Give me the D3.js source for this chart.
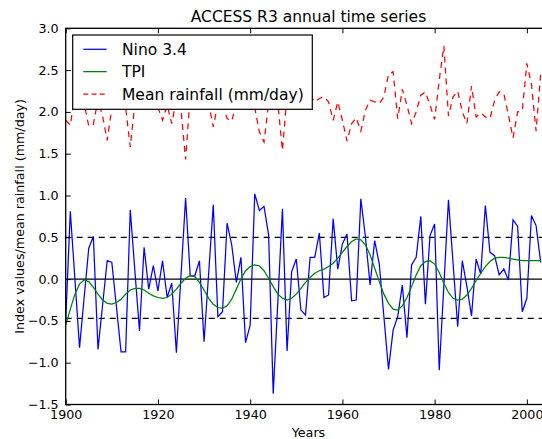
<!DOCTYPE html>
<html>
<head>
<meta charset="utf-8">
<script src="https://cdn.jsdelivr.net/npm/d3@7"></script>
<style>
  body { margin: 0; background: #fff; }
  svg { display: block; font-family: "DejaVu Sans", sans-serif; }
</style>
</head>
<body>
<div id="chart"></div>
<script>
// years 1900..2003
const years = d3.range(1900, 2004);

const nino = [
  -0.50, 0.81, 0.00, -0.82, -0.22, 0.37, 0.51, -0.84, -0.31, 0.22,
  0.20, -0.33, -0.87, -0.87, 0.83, 0.10, -0.62, 0.38, -0.12, 0.16,
  -0.14, 0.22, -0.22, -0.05, -0.88, 0.04, 0.97, 0.04, 0.04, 0.22,
  -0.75, 0.07, 0.89, -0.45, -0.39, 0.67, 0.41, -0.04, 0.26, -0.76,
  -0.55, 1.02, 0.82, 0.87, 0.53, -1.37, -0.27, 0.84, -0.86, 0.09,
  0.24, -0.37, -0.43, 0.26, 0.26, 0.55, -0.22, -0.19, 0.72, 0.12,
  0.42, 0.54, -0.26, -0.25, 0.96, 0.50, -0.07, 0.46, 0.18, -0.45,
  -1.08, -0.61, -0.45, -0.07, -0.70, 0.17, 0.26, 0.75, -0.30, 0.52,
  0.66, -1.09, -0.08, 0.95, 0.19, -0.57, 0.22, -0.09, -0.44, 0.24,
  0.06, 0.88, 0.32, 0.28, 0.05, 0.12, -0.01, 0.71, 0.63, -0.39,
  -0.23, 0.76, 0.64, 0.20
];

const tpi = [
  -0.55, -0.36, -0.18, -0.06, -0.01, -0.03, -0.10, -0.18, -0.25, -0.29,
  -0.30, -0.28, -0.24, -0.18, -0.13, -0.11, -0.11, -0.13, -0.17, -0.20,
  -0.22, -0.23, -0.22, -0.18, -0.12, -0.05, 0.01, 0.04, 0.03, -0.04,
  -0.13, -0.23, -0.30, -0.34, -0.35, -0.32, -0.24, -0.12, 0.00, 0.10,
  0.15, 0.17, 0.16, 0.10, 0.01, -0.09, -0.18, -0.23, -0.25, -0.23,
  -0.18, -0.11, -0.04, 0.02, 0.07, 0.10, 0.12, 0.15, 0.19, 0.25,
  0.32, 0.39, 0.45, 0.48, 0.47, 0.41, 0.29, 0.13, -0.03, -0.18,
  -0.29, -0.36, -0.37, -0.32, -0.22, -0.09, 0.05, 0.16, 0.21, 0.22,
  0.18, 0.08, -0.05, -0.16, -0.23, -0.25, -0.24, -0.19, -0.11, -0.02,
  0.07, 0.15, 0.21, 0.25, 0.26, 0.26, 0.25, 0.24, 0.23, 0.22,
  0.22, 0.22, 0.22, 0.22
];

const rain = [
  1.90, 1.84, 2.20, 2.15, 2.10, 1.83, 1.85, 2.15, 1.95, 1.66,
  2.05, 2.15, 2.20, 2.05, 1.58, 2.10, 2.05, 2.10, 2.10, 2.20,
  2.05, 1.90, 2.08, 1.86, 2.15, 2.03, 1.43, 2.20, 2.20, 2.15,
  2.25, 2.10, 1.82, 2.10, 2.10, 1.92, 1.89, 2.10, 2.15, 2.20,
  2.10, 2.05, 1.76, 1.64, 2.10, 2.20, 2.10, 1.54, 2.20, 2.15,
  2.25, 2.20, 2.15, 2.20, 2.12, 2.16, 2.18, 2.12, 1.90, 2.12,
  1.90, 1.65, 1.86, 1.93, 1.77, 2.02, 2.14, 2.12, 2.10, 2.18,
  2.45, 2.48, 1.92, 2.27, 2.08, 1.86, 2.00, 2.20, 2.24, 2.08,
  1.91, 2.38, 2.79, 1.95, 2.18, 2.25, 2.00, 1.86, 2.31, 1.94,
  1.99, 1.94, 1.92, 2.14, 2.24, 2.22, 1.96, 1.69, 2.00, 2.01,
  2.58, 2.33, 1.77, 2.46
];

const xTicks = [1900, 1920, 1940, 1960, 1980, 2000];
const yTicks = [-1.5, -1.0, -0.5, 0.0, 0.5, 1.0, 1.5, 2.0, 2.5, 3.0];
const thresholds = [0.5, -0.47];

const seriesNames = ["Nino 3.4", "TPI", "Mean rainfall (mm/day)"];

const width = 542, height = 439;
const margin = {left: 65.7, right: 551.3, top: 28.3, bottom: 404.5};

const x = d3.scaleLinear([1900, 2005.3], [margin.left, margin.right]);
const y = d3.scaleLinear([-1.5, 3.0], [margin.bottom, margin.top]);

const svg = d3.select("#chart").append("svg")
  .attr("width", width)
  .attr("height", height)
  .attr("viewBox", [0, 0, width, height]);

svg.append("rect").attr("width", width).attr("height", height).attr("fill", "#fff");

svg.append("clipPath").attr("id", "plot-clip")
  .append("rect")
  .attr("x", margin.left).attr("y", margin.top)
  .attr("width", margin.right - margin.left)
  .attr("height", margin.bottom - margin.top);

const plot = svg.append("g").attr("clip-path", "url(#plot-clip)");

// zero and threshold lines
plot.append("line")
  .attr("x1", margin.left).attr("x2", margin.right)
  .attr("y1", y(0)).attr("y2", y(0))
  .attr("stroke", "#000").attr("stroke-width", 1.3);

plot.selectAll("line.thr")
  .data(thresholds)
  .join("line")
  .attr("class", "thr")
  .attr("x1", margin.left).attr("x2", margin.right)
  .attr("y1", d => y(d)).attr("y2", d => y(d))
  .attr("stroke", "#000").attr("stroke-width", 1.3)
  .attr("stroke-dasharray", "6,5");

const line = vals => d3.line()
  .x((d, i) => x(years[i]))
  .y(d => y(d))(vals);

const series = [
  {name: seriesNames[0], vals: nino, color: "#0000ff", dash: null},
  {name: seriesNames[1], vals: tpi, color: "#008000", dash: null},
  {name: seriesNames[2], vals: rain, color: "#ff0000", dash: "6,5"}
];

plot.selectAll("path.series")
  .data(series)
  .join("path")
  .attr("class", "series")
  .attr("fill", "none")
  .attr("stroke", d => d.color)
  .attr("stroke-width", 1.25)
  .attr("stroke-dasharray", d => d.dash)
  .attr("d", d => line(d.vals));

// axes, ticks pointing inward
const tickFont = g => g.selectAll("text")
  .attr("font-family", "DejaVu Sans, sans-serif")
  .attr("font-size", 12.7)
  .attr("fill", "#000");

svg.append("g")
  .attr("transform", `translate(0,${margin.bottom})`)
  .call(d3.axisBottom(x).tickValues(xTicks).tickFormat(d3.format("d")).tickSize(-5).tickSizeOuter(0).tickPadding(5.5))
  .call(g => g.select(".domain").remove())
  .call(tickFont);

svg.append("g")
  .attr("transform", `translate(0,${margin.top})`)
  .call(d3.axisTop(x).tickValues(xTicks).tickFormat("").tickSize(-5).tickSizeOuter(0))
  .call(g => g.select(".domain").remove());

svg.append("g")
  .attr("transform", `translate(${margin.left},0)`)
  .call(d3.axisLeft(y).tickValues(yTicks).tickFormat(d3.format(".1f")).tickSize(-5).tickSizeOuter(0).tickPadding(7))
  .call(g => g.select(".domain").remove())
  .call(tickFont);

svg.append("g")
  .attr("transform", `translate(${margin.right},0)`)
  .call(d3.axisRight(y).tickValues(yTicks).tickFormat("").tickSize(-5).tickSizeOuter(0))
  .call(g => g.select(".domain").remove());

svg.selectAll(".tick line").attr("stroke", "#000");

// frame
svg.append("rect")
  .attr("x", margin.left).attr("y", margin.top)
  .attr("width", margin.right - margin.left)
  .attr("height", margin.bottom - margin.top)
  .attr("fill", "none").attr("stroke", "#000").attr("stroke-width", 1.3);

// labels
svg.append("text")
  .attr("x", (margin.left + margin.right) / 2).attr("y", 22)
  .attr("text-anchor", "middle").attr("font-size", 15.5)
  .text("ACCESS R3 annual time series");

svg.append("text")
  .attr("x", (margin.left + margin.right) / 2).attr("y", 436.5)
  .attr("text-anchor", "middle").attr("font-size", 12.7)
  .text("Years");

svg.append("text")
  .attr("transform", `translate(23.5,${(margin.top + margin.bottom) / 2}) rotate(-90)`)
  .attr("text-anchor", "middle").attr("font-size", 12.7)
  .text("Index values/mean rainfall (mm/day)");

// legend
const legend = svg.append("g");
legend.append("rect")
  .attr("x", 72.7).attr("y", 35)
  .attr("width", 239.6).attr("height", 74.3)
  .attr("fill", "#fff").attr("stroke", "#000").attr("stroke-width", 1.2);

const rows = legend.selectAll("g.row")
  .data(series)
  .join("g")
  .attr("class", "row")
  .attr("transform", (d, i) => `translate(0,${49.3 + i * 22.35})`);

rows.append("line")
  .attr("x1", 83.3).attr("x2", 106.7)
  .attr("stroke", d => d.color).attr("stroke-width", 1.25)
  .attr("stroke-dasharray", d => d.dash ? "5,3.2" : null);

rows.append("text")
  .attr("x", 122).attr("y", 5.6)
  .attr("font-size", 15.5)
  .text(d => d.name);
</script>
</body>
</html>
